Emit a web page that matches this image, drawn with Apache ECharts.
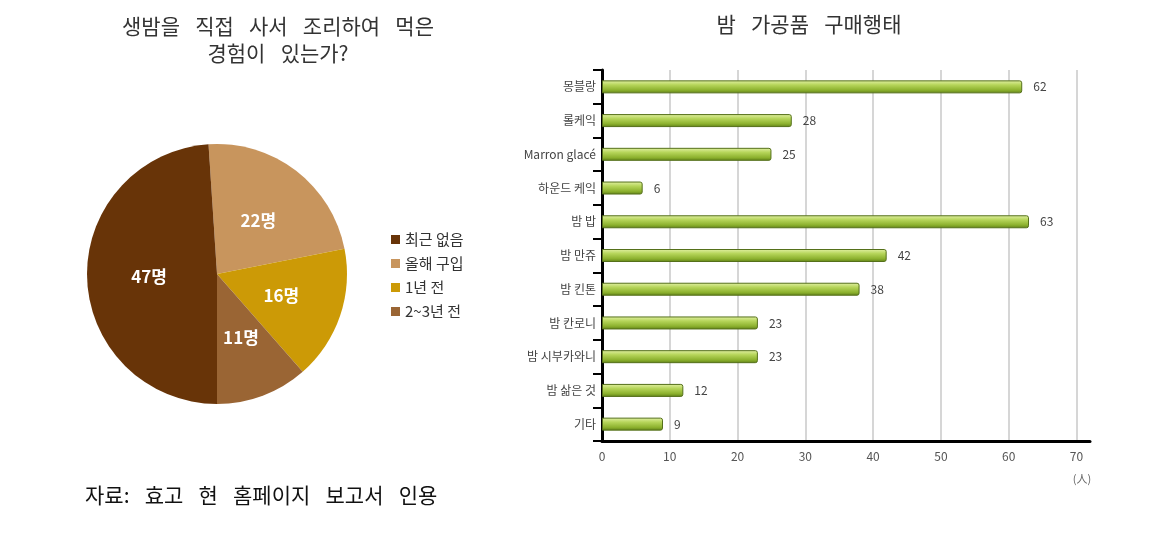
<!DOCTYPE html>
<html>
<head>
<meta charset="utf-8">
<script src="https://cdn.jsdelivr.net/npm/echarts@6/dist/echarts.min.js"></script>
<style>
  html, body { margin: 0; padding: 0; background: #fff; }
  #main { width: 1152px; height: 553px; }
</style>
</head>
<body>
<div id="main"></div>
<script>
// pie: experience buying raw chestnuts
var pieNames = ['올해 구입', '1년 전', '2~3년 전', '최근 없음'];
var pieValues = [22, 16, 11, 47];
var pieColors = ['#c8955d', '#cc9a06', '#9a6534', '#683408'];
var legendOrder = ['최근 없음', '올해 구입', '1년 전', '2~3년 전'];

// bar: processed chestnut products purchased
var barCats = ['몽블랑', '롤케익', 'Marron glacé', '하운드 케익', '밤 밥', '밤 만쥬', '밤 킨톤',
               '밤 칸로니', '밤 시부카와니', '밤 삶은 것', '기타'];
var barValues = [62, 28, 25, 6, 63, 42, 38, 23, 23, 12, 9];

var KR = '"Noto Sans CJK KR", "Noto Sans", sans-serif';
var SP = '\u2002 '; // wider gaps, the original uses a serif face with wide spaces

function wide(s) { return s.split(' ').join(SP); }

var myChart = echarts.init(document.getElementById('main'));

var greenBar = new echarts.graphic.LinearGradient(0, 0, 0, 1, [
    { offset: 0, color: '#e3f1a6' },
    { offset: 0.35, color: '#b6d55a' },
    { offset: 0.75, color: '#8cb12e' },
    { offset: 1, color: '#5f7f17' }
]);

var option = {
    animation: false,
    title: [
        {
            text: wide('생밤을 직접 사서 조리하여 먹은') + '\n' + wide('경험이 있는가?'),
            left: 273, top: 8, textAlign: 'center',
            textStyle: { fontFamily: KR, fontSize: 21, fontWeight: 'normal', color: '#333', lineHeight: 27 }
        },
        {
            text: wide('밤 가공품 구매행태'),
            left: 804, top: 9, textAlign: 'center',
            textStyle: { fontFamily: KR, fontSize: 21, fontWeight: 'normal', color: '#333' }
        },
        {
            text: wide('자료: 효고 현 홈페이지 보고서 인용'),
            left: 80, top: 480,
            textStyle: { fontFamily: KR, fontSize: 21, fontWeight: 'normal', color: '#111' }
        },
        {
            text: '(人)',
            left: 1077, top: 468, textAlign: 'center',
            textStyle: { fontFamily: KR, fontSize: 11, fontWeight: 'normal', color: '#666' }
        }
    ],
    legend: {
        data: legendOrder,
        orient: 'vertical',
        left: 386, top: 227,
        itemWidth: 9, itemHeight: 9, itemGap: 9,
        icon: 'rect',
        textStyle: { fontFamily: KR, fontSize: 15, color: '#333' }
    },
    grid: { left: 602, right: 62, top: 70, bottom: 112, containLabel: false },
    xAxis: {
        type: 'value',
        min: 0, max: 72, interval: 10,
        axisLine: { show: true, lineStyle: { color: '#000', width: 3 } },
        axisTick: { show: false },
        axisLabel: { fontFamily: KR, fontSize: 12, color: '#555', margin: 9, showMaxLabel: false },
        splitLine: { show: true, showMaxLine: false, lineStyle: { color: '#c8c8c8', width: 1.5 } }
    },
    yAxis: {
        type: 'category',
        data: barCats,
        inverse: true,
        axisLine: { show: true, lineStyle: { color: '#000', width: 3 } },
        axisTick: { show: true, length: 9, lineStyle: { color: '#000', width: 2 } },
        axisLabel: { fontFamily: KR, fontSize: 12, color: '#444', margin: 6 },
        splitLine: { show: false }
    },
    series: [
        {
            name: '구매행태',
            type: 'bar',
            data: barValues,
            barWidth: 13,
            itemStyle: {
                color: greenBar,
                borderColor: '#55701a',
                borderWidth: 1,
                borderRadius: [0, 2, 2, 0]
            },
            label: {
                show: true,
                position: 'right',
                distance: 11,
                fontFamily: KR,
                fontSize: 12,
                color: '#444'
            }
        },
        {
            name: '경험',
            type: 'pie',
            center: [217, 274],
            radius: 130,
            startAngle: 93.75,
            clockwise: true,
            data: pieNames.map(function (n, i) {
                return { name: n, value: pieValues[i], itemStyle: { color: pieColors[i] } };
            }),
            label: {
                show: true,
                position: 'inside',
                formatter: '{c}명',
                fontFamily: KR,
                fontSize: 17,
                fontWeight: 'bold',
                color: '#fff'
            },
            labelLine: { show: false },
            itemStyle: { borderWidth: 0 }
        }
    ]
};

myChart.setOption(option);
</script>
</body>
</html>
